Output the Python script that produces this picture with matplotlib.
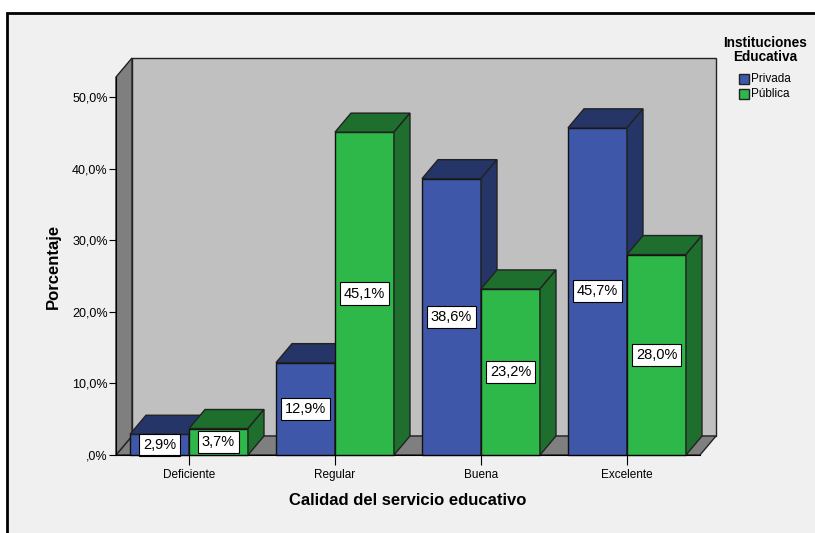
import matplotlib.pyplot as plt
from matplotlib.patches import Polygon, Rectangle

categorias = ['Deficiente', 'Regular', 'Buena', 'Excelente']
privada = [2.9, 12.9, 38.6, 45.7]
publica = [3.7, 45.1, 23.2, 28.0]
series = ['Privada', 'Pública']
ticks_y = [0, 10, 20, 30, 40, 50]
ticks_y_lab = [',0%', '10,0%', '20,0%', '30,0%', '40,0%', '50,0%']

c_front = ['#3f57a9', '#2eb84a']
c_dark = ['#253567', '#1e6e2e']

plt.rcParams['font.family'] = ['Liberation Sans', 'DejaVu Sans']

W, H = 815, 533
fig = plt.figure(figsize=(W / 100, H / 100), dpi=100)
fig.patch.set_facecolor('white')
# marco gris con borde negro
fig.patches.append(Rectangle((7 / W, -0.05), 1.1, 1 - 13 / H + 0.05, transform=fig.transFigure,
                             facecolor='#f0f0f0', edgecolor='black', lw=2, zorder=-10))

x0, x1 = 116, 700
yb, yt = 455, 77
ax = fig.add_axes([x0 / W, 1 - yb / H, (x1 - x0) / W, (yb - yt) / H])
ax.set_xlim(-0.5, 3.5)
ax.set_ylim(0, 52.8)
ax.patch.set_visible(False)

dx = 16 / 146.0
dy = 19 / 7.16
xl, xr = ax.get_xlim()
ymax = ax.get_ylim()[1]
kw = dict(closed=True, edgecolor='#222222', lw=1, clip_on=False)

# pared trasera, suelo y pared izquierda
ax.add_patch(Polygon([(xl + dx, dy), (xr + dx, dy), (xr + dx, ymax + dy), (xl + dx, ymax + dy)],
                     facecolor='#c0c0c0', zorder=0, **kw))
ax.add_patch(Polygon([(xl, 0), (xr, 0), (xr + dx, dy), (xl + dx, dy)],
                     facecolor='#7f7f7f', zorder=1, **kw))
ax.add_patch(Polygon([(xl, 0), (xl + dx, dy), (xl + dx, ymax + dy), (xl, ymax)],
                     facecolor='#7f7f7f', zorder=1, **kw))

w = 0.404
z = 2
for i in range(len(categorias)):
    for s, vals in enumerate([privada, publica]):
        v = vals[i]
        left = i - w + s * w
        right = left + w
        ax.bar(left, v, width=w, align='edge', color=c_front[s], edgecolor='#111111',
               lw=1, zorder=z, clip_on=False)
        ax.add_patch(Polygon([(left, v), (right, v), (right + dx, v + dy), (left + dx, v + dy)],
                             facecolor=c_dark[s], zorder=z, **kw))
        ax.add_patch(Polygon([(right, 0), (right + dx, dy), (right + dx, v + dy), (right, v)],
                             facecolor=c_dark[s], zorder=z, **kw))
        z += 1
        ax.text(left + w / 2, v / 2, f'{v:.1f}%'.replace('.', ','), ha='center', va='center',
                fontsize=10.5, zorder=50,
                bbox=dict(boxstyle='square,pad=0.28', facecolor='white', edgecolor='black', lw=0.8))

for sp in ['top', 'right']:
    ax.spines[sp].set_visible(False)
ax.spines['left'].set_zorder(60)
ax.spines['bottom'].set_zorder(60)
ax.set_yticks(ticks_y)
ax.set_yticklabels(ticks_y_lab, fontsize=9)
ax.set_xticks(range(len(categorias)))
ax.set_xticklabels(categorias, fontsize=8.5)
ax.tick_params(axis='y', length=5, pad=1)
ax.tick_params(axis='x', length=7, pad=3)
ax.set_xlabel('Calidad del servicio educativo', fontsize=12, fontweight='bold', labelpad=9)
ax.set_ylabel('Porcentaje', fontsize=12, fontweight='bold', labelpad=8)

# leyenda
fig.text(765 / W, 1 - 50 / H, 'Instituciones\nEducativa', ha='center', va='center',
         fontsize=9.8, fontweight='bold', linespacing=0.95)
for s, nombre in enumerate(series):
    yy = 79 + s * 15
    fig.patches.append(Rectangle((739 / W, 1 - (yy + 5) / H), 10 / W, 10 / H,
                                 transform=fig.transFigure, facecolor=c_front[s],
                                 edgecolor='#222222', lw=1))
    fig.text(751 / W, 1 - yy / H, nombre, ha='left', va='center', fontsize=8.5)

fig.savefig('out.png', dpi=100)
